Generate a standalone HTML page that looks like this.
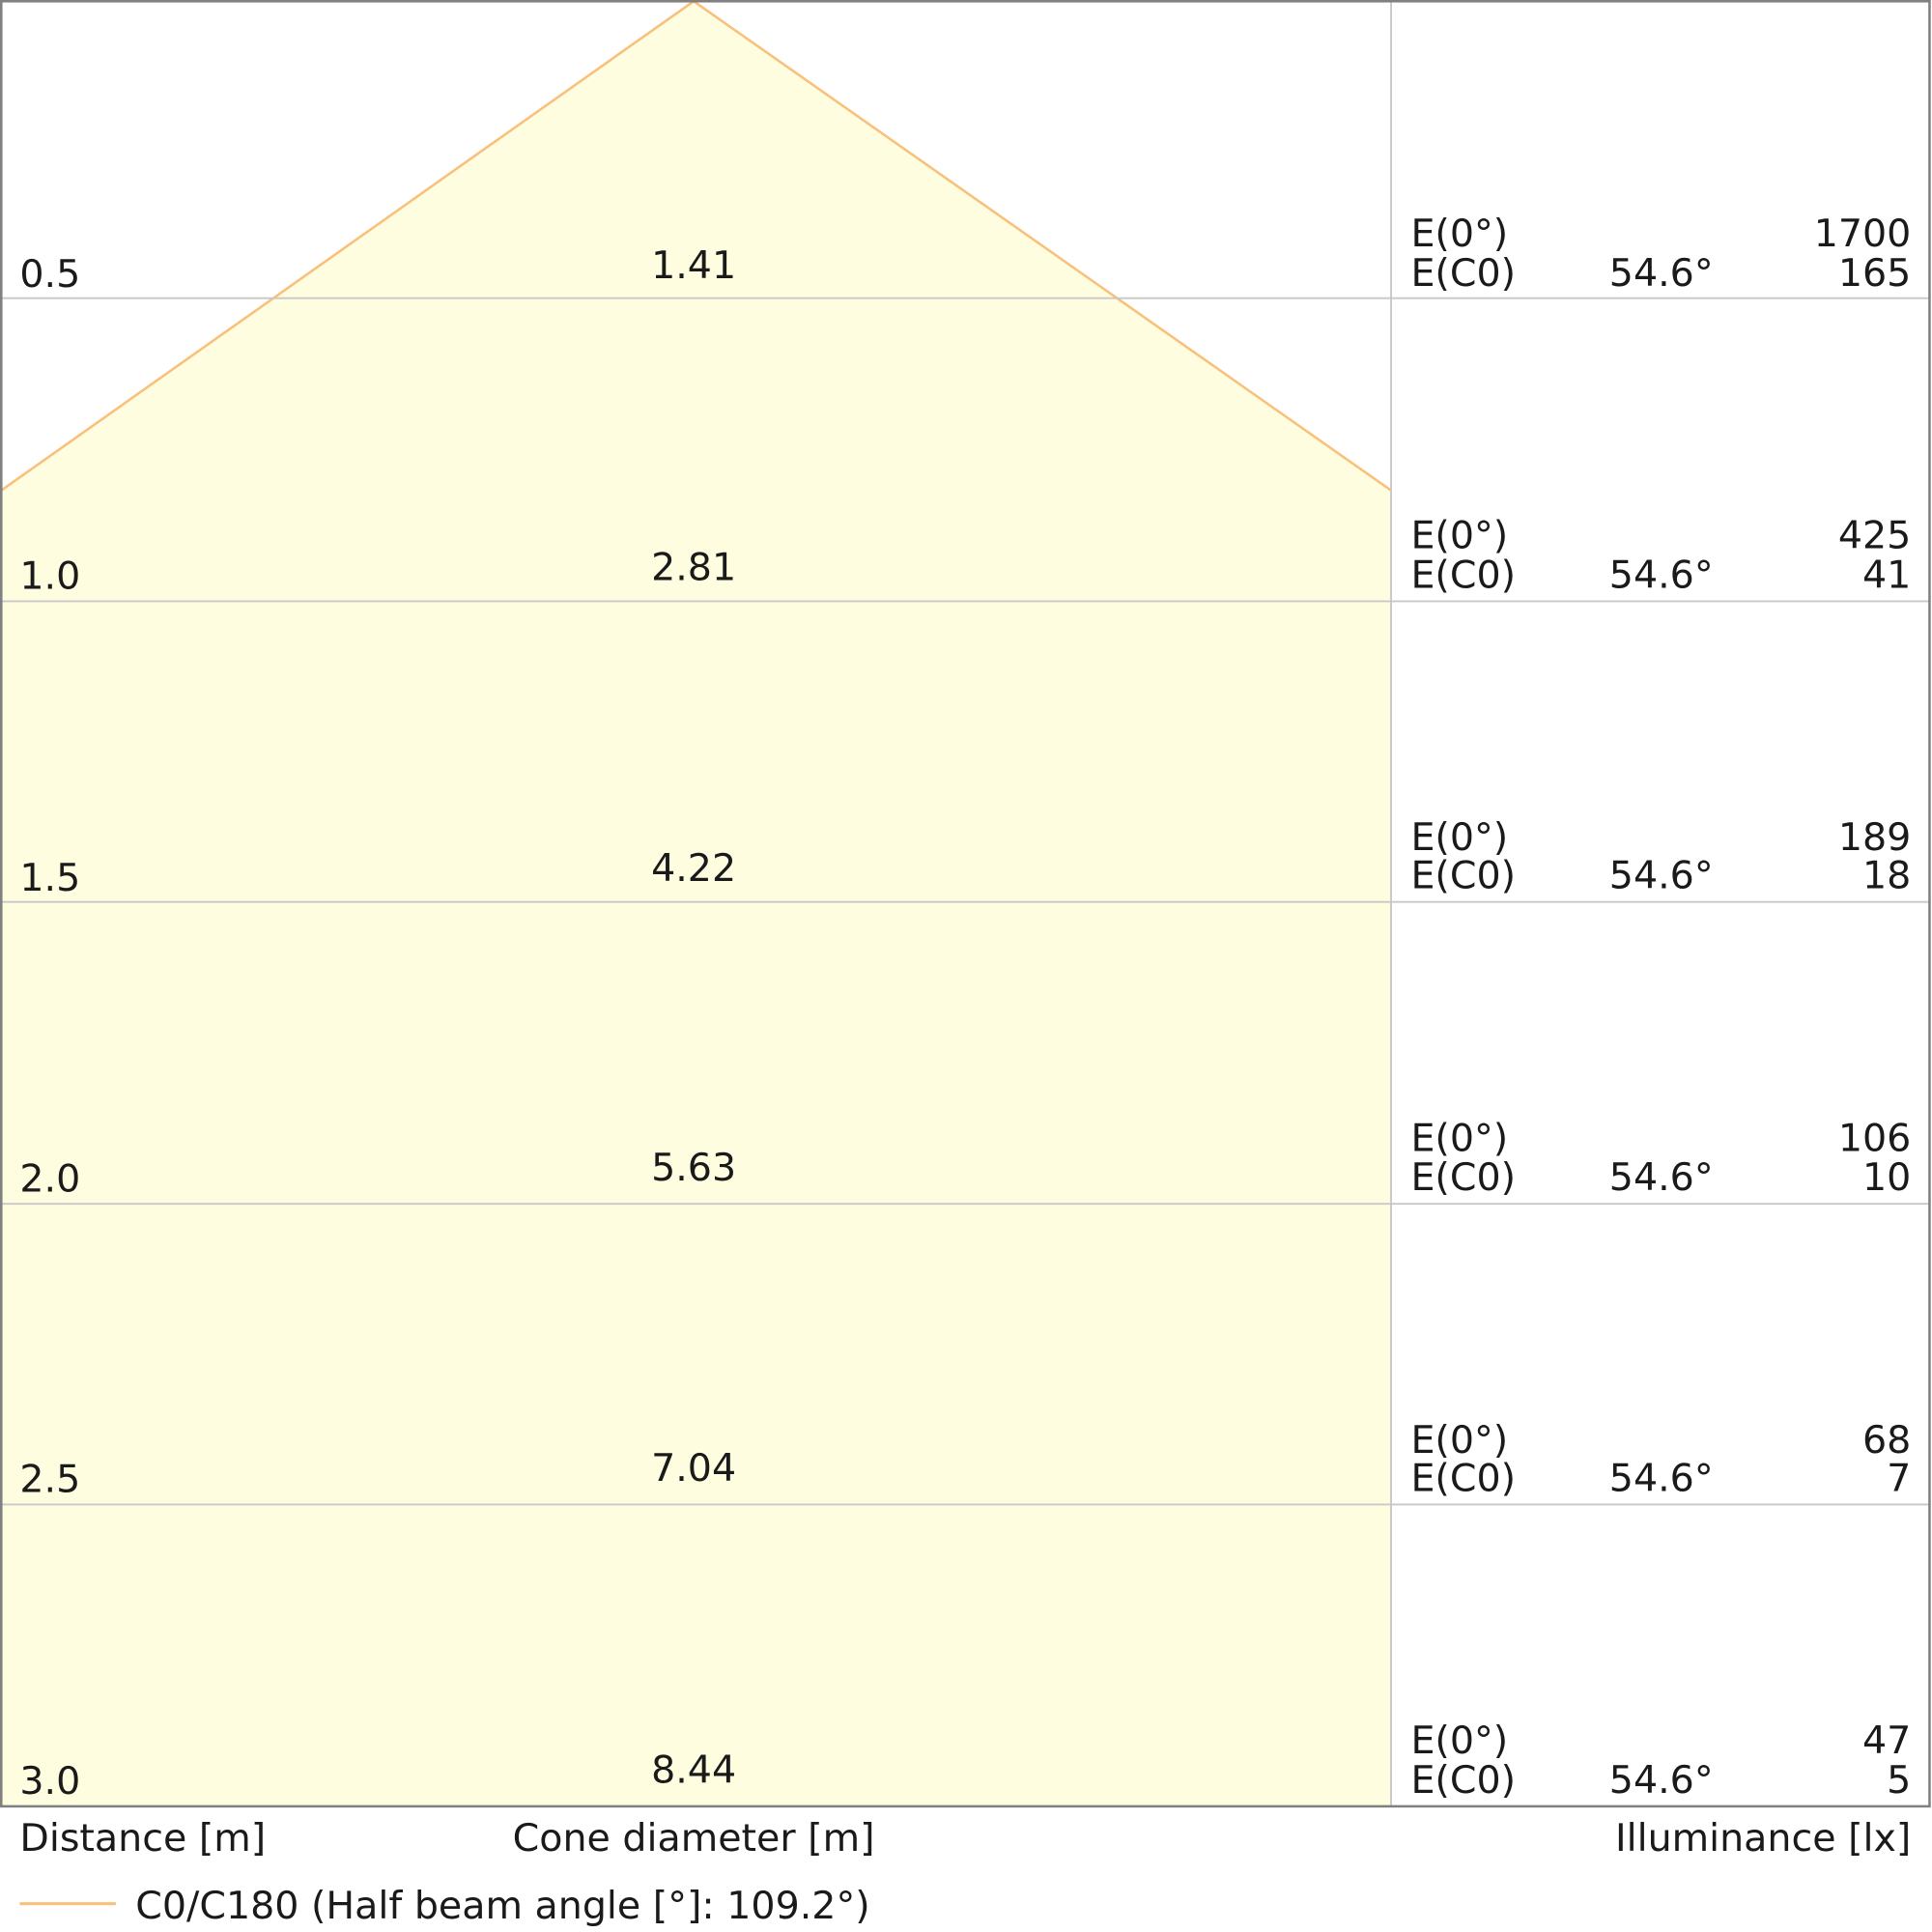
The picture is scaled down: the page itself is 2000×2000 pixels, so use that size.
<!DOCTYPE html>
<html><head><meta charset="utf-8"><style>
html,body{margin:0;padding:0;background:#fff;}
svg{display:block;}
text{font-family:"DejaVu Sans","Liberation Sans",sans-serif;font-size:31px;fill:#1a1a1a;}
</style></head><body>
<svg width="2000" height="2000" viewBox="0 0 1568 1568" xmlns="http://www.w3.org/2000/svg">
<rect x="0" y="0" width="1568" height="1568" fill="#fff"/>
<polygon points="1,398 563,1 1129,398 1129,1466 1,1466" fill="#fefde0"/>
<polyline points="1,398 563,1 1129,398" fill="none" stroke="#f9c07a" stroke-width="2"/>
<g stroke="#c8c8c8" stroke-width="1.5">
<line x1="1" y1="242" x2="1566" y2="242"/>
<line x1="1" y1="488" x2="1566" y2="488"/>
<line x1="1" y1="732" x2="1566" y2="732"/>
<line x1="1" y1="977" x2="1566" y2="977"/>
<line x1="1" y1="1221" x2="1566" y2="1221"/>
<line x1="1129" y1="1" x2="1129" y2="1466"/>
</g>
<rect x="1" y="1" width="1565" height="1465" fill="none" stroke="#808080" stroke-width="2"/>
<g>
<text x="16" y="233">0.5</text><text x="563" y="226" text-anchor="middle">1.41</text>
<text x="16" y="478">1.0</text><text x="563" y="471" text-anchor="middle">2.81</text>
<text x="16" y="723">1.5</text><text x="563" y="715" text-anchor="middle">4.22</text>
<text x="16" y="967">2.0</text><text x="563" y="958" text-anchor="middle">5.63</text>
<text x="16" y="1211">2.5</text><text x="563" y="1202" text-anchor="middle">7.04</text>
<text x="16" y="1456">3.0</text><text x="563" y="1447" text-anchor="middle">8.44</text>
</g>
<g>
<text x="1145" y="200">E(0°)</text><text x="1145" y="232">E(C0)</text><text x="1306" y="232">54.6°</text>
<text x="1551" y="200" text-anchor="end">1700</text><text x="1551" y="232" text-anchor="end">165</text>
<text x="1145" y="445">E(0°)</text><text x="1145" y="477">E(C0)</text><text x="1306" y="477">54.6°</text>
<text x="1551" y="445" text-anchor="end">425</text><text x="1551" y="477" text-anchor="end">41</text>
<text x="1145" y="690">E(0°)</text><text x="1145" y="721">E(C0)</text><text x="1306" y="721">54.6°</text>
<text x="1551" y="690" text-anchor="end">189</text><text x="1551" y="721" text-anchor="end">18</text>
<text x="1145" y="934">E(0°)</text><text x="1145" y="966">E(C0)</text><text x="1306" y="966">54.6°</text>
<text x="1551" y="934" text-anchor="end">106</text><text x="1551" y="966" text-anchor="end">10</text>
<text x="1145" y="1179">E(0°)</text><text x="1145" y="1210">E(C0)</text><text x="1306" y="1210">54.6°</text>
<text x="1551" y="1179" text-anchor="end">68</text><text x="1551" y="1210" text-anchor="end">7</text>
<text x="1145" y="1423">E(0°)</text><text x="1145" y="1455">E(C0)</text><text x="1306" y="1455">54.6°</text>
<text x="1551" y="1423" text-anchor="end">47</text><text x="1551" y="1455" text-anchor="end">5</text>
</g>
<text x="16" y="1502">Distance [m]</text>
<text x="563" y="1502" text-anchor="middle">Cone diameter [m]</text>
<text x="1551" y="1502" text-anchor="end">Illuminance [lx]</text>
<line x1="16" y1="1545" x2="94" y2="1545" stroke="#f9c07a" stroke-width="2.5"/>
<text x="110" y="1557">C0/C180 (Half beam angle [°]: 109.2°)</text>
</svg>
</body></html>
